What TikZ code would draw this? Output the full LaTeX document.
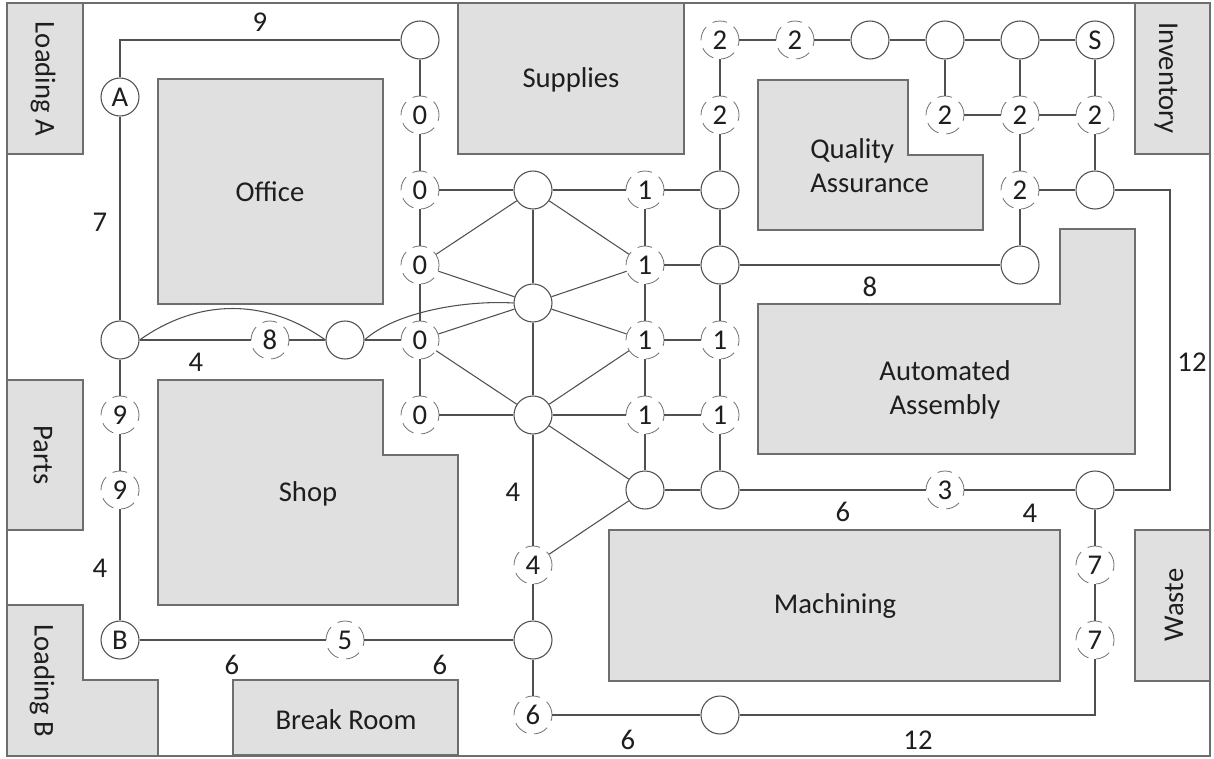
\documentclass[tikz,border=0pt]{standalone}
\usepackage{fontspec}
\setmainfont{Carlito}
\definecolor{roomfill}{HTML}{E0E0E0}
\definecolor{roomline}{HTML}{6E6E6E}
\definecolor{edgecol}{HTML}{505050}
\definecolor{dashcol}{HTML}{707070}
\definecolor{txtcol}{HTML}{1E1E1E}
\begin{document}
\begin{tikzpicture}[x=0.75pt,y=-0.75pt,
  every node/.style={font=\fontsize{21.5}{25.5}\selectfont, text=txtcol},
  room/.style={fill=roomfill, draw=roomline, line width=0.9pt},
  roomtxt/.style={inner sep=0pt},
  vtx/.style={circle, draw=edgecol, fill=white, line width=0.8pt, minimum size=28.5pt, inner sep=0pt},
  wt/.style={circle, draw=dashcol, fill=white, line width=0.6pt, dash pattern=on 11pt off 6pt, minimum size=28.5pt, inner sep=0pt},
  edge/.style={draw=edgecol, line width=0.8pt},
  border/.style={draw=roomline, line width=0.9pt},
  elbl/.style={inner sep=0pt}]
\useasboundingbox (0,0) rectangle (1214,758);
\draw[border] (7,3) rectangle (1210,756);
% rooms
\draw[room] (7,3) rectangle (83,154);
\node[roomtxt, rotate=-90] (tLA) at (43,79) {Loading A};
\draw[room] (158,79) rectangle (383,304);
\node[roomtxt] (tOf) at (270,192) {Office};
\draw[room] (458,3) rectangle (684,154);
\node[roomtxt] (tSu) at (571,80) {Supplies};
\draw[room] (758,80) -- (908,80) -- (908,155) -- (983,155) -- (983,230) -- (758,230) -- cycle;
\node[roomtxt, align=left, anchor=west] (tQA) at (810,166) {Quality\\Assurance};
\draw[room] (1135,3) rectangle (1210,154);
\node[roomtxt, rotate=-90] (tIn) at (1166,78) {Inventory};
\draw[room] (758,304) -- (1060,304) -- (1060,229) -- (1135,229) -- (1135,454) -- (758,454) -- cycle;
\node[roomtxt, align=center] (tAA) at (945,390) {Automated\\Assembly};
\draw[room] (7,380) rectangle (83,530);
\node[roomtxt, rotate=-90] (tPa) at (43,455) {Parts};
\draw[room] (158,380) -- (383,380) -- (383,455) -- (458,455) -- (458,605) -- (158,605) -- cycle;
\node[roomtxt] (tSh) at (308,494) {Shop};
\draw[room] (7,605) -- (83,605) -- (83,680) -- (158,680) -- (158,756) -- (7,756) -- cycle;
\node[roomtxt, rotate=-90] (tLB) at (42,681) {Loading B};
\draw[room] (233,680) rectangle (458,755);
\node[roomtxt] (tBR) at (346,720) {Break Room};
\draw[room] (609,530) rectangle (1060,681);
\node[roomtxt] (tMa) at (835,606) {Machining};
\draw[room] (1135,530) rectangle (1210,681);
\node[roomtxt, rotate=90] (tWa) at (1174,605) {Waste};
% solid vertices
\node[vtx] (t0) at (420,40) {};
\node[vtx] (A) at (120,97) {A};
\node[vtx] (h1) at (533,190) {};
\node[vtx] (h2) at (533,303) {};
\node[vtx] (h3) at (533,415) {};
\node[vtx] (c190) at (720,190) {};
\node[vtx] (c265) at (720,265) {};
\node[vtx] (d490) at (645,490) {};
\node[vtx] (e490) at (720,490) {};
\node[vtx] (m640) at (533,640) {};
\node[vtx] (b715) at (720,715) {};
\node[vtx] (L340) at (120,340) {};
\node[vtx] (M340) at (345,340) {};
\node[vtx] (B) at (120,640) {B};
\node[vtx] (q1) at (870,40) {};
\node[vtx] (q2) at (945,40) {};
\node[vtx] (q3) at (1020,40) {};
\node[vtx] (S) at (1095,40) {S};
\node[vtx] (r190) at (1095,190) {};
\node[vtx] (r265) at (1020,265) {};
\node[vtx] (r490) at (1095,490) {};
% weighted (dashed) vertices
\node[wt] (z1) at (420,115) {0};
\node[wt] (z2) at (420,190) {0};
\node[wt] (z3) at (420,265) {0};
\node[wt] (z4) at (420,340) {0};
\node[wt] (z5) at (420,415) {0};
\node[wt] (o1) at (645,190) {1};
\node[wt] (o2) at (645,265) {1};
\node[wt] (o3) at (645,340) {1};
\node[wt] (o4) at (720,340) {1};
\node[wt] (o5) at (645,415) {1};
\node[wt] (o6) at (720,415) {1};
\node[wt] (w1) at (720,40) {2};
\node[wt] (w2) at (795,40) {2};
\node[wt] (w3) at (720,115) {2};
\node[wt] (w4) at (945,115) {2};
\node[wt] (w5) at (1020,115) {2};
\node[wt] (w6) at (1095,115) {2};
\node[wt] (w7) at (1020,190) {2};
\node[wt] (e8) at (270,340) {8};
\node[wt] (n9a) at (120,415) {9};
\node[wt] (n9b) at (120,490) {9};
\node[wt] (f4) at (533,565) {4};
\node[wt] (f5) at (345,640) {5};
\node[wt] (f6) at (533,715) {6};
\node[wt] (f3) at (945,490) {3};
\node[wt] (s7a) at (1095,565) {7};
\node[wt] (s7b) at (1095,640) {7};
% edges
\draw[edge] (t0) -| (A);
\draw[edge] (A) -- (L340);
\draw[edge] (t0) -- (z1) -- (z2) -- (z3) -- (z4) -- (z5);
\draw[edge] (z2) -- (h1) -- (o1) -- (c190);
\draw[edge] (z3) -- (h1);
\draw[edge] (z3) -- (h2);
\draw[edge] (h1) -- (h2);
\draw[edge] (h1) -- (o2);
\draw[edge] (h2) -- (o2);
\draw[edge] (h2) -- (o3);
\draw[edge] (z4) -- (h2);
\draw[edge] (z4) -- (h3);
\draw[edge] (h2) -- (h3);
\draw[edge] (h3) -- (o3);
\draw[edge] (z5) -- (h3);
\draw[edge] (h3) -- (o5);
\draw[edge] (h3) -- (d490);
\draw[edge] (h3) -- (f4);
\draw[edge] (f4) -- (d490);
\draw[edge] (f4) -- (m640) -- (f6) -- (b715);
\draw[edge] (b715) -| (s7b);
\draw[edge] (s7b) -- (s7a) -- (r490);
\draw[edge] (o1) -- (o2) -- (o3) -- (o5) -- (d490);
\draw[edge] (o2) -- (c265);
\draw[edge] (o3) -- (o4);
\draw[edge] (o5) -- (o6);
\draw[edge] (w1) -- (w3) -- (c190) -- (c265) -- (o4) -- (o6) -- (e490);
\draw[edge] (d490) -- (e490) -- (f3) -- (r490);
\draw[edge] (r490) -- ++(75,0) |- (r190);
\draw[edge] (c265) -- (r265);
\draw[edge] (w1) -- (w2) -- (q1) -- (q2) -- (q3) -- (S);
\draw[edge] (q2) -- (w4) -- (w5) -- (w6);
\draw[edge] (q3) -- (w5) -- (w7) -- (r265);
\draw[edge] (S) -- (w6) -- (r190);
\draw[edge] (w7) -- (r190);
\draw[edge] (L340) -- (e8) -- (M340) -- (z4);
\draw[edge] (L340.east) .. controls (199,298) and (266,298) .. (M340.west);
\draw[edge] (M340.east) .. controls (395,312) and (465,300) .. (h2.west);
\draw[edge] (L340) -- (n9a) -- (n9b) -- (B);
\draw[edge] (B) -- (f5) -- (m640);
% edge length labels
\node[elbl] (l9) at (260,22) {9};
\node[elbl] (l7) at (100,222) {7};
\node[elbl] (l4a) at (196,362) {4};
\node[elbl] (l4b) at (100,568) {4};
\node[elbl] (l6a) at (232,665) {6};
\node[elbl] (l6b) at (440,665) {6};
\node[elbl] (l4c) at (513,492) {4};
\node[elbl] (l6c) at (628,740) {6};
\node[elbl] (l12a) at (918,740) {12};
\node[elbl] (l6d) at (843,512) {6};
\node[elbl] (l4d) at (1030,513) {4};
\node[elbl] (l8) at (870,287) {8};
\node[elbl] (l12b) at (1192,362) {12};
\end{tikzpicture}
\end{document}
